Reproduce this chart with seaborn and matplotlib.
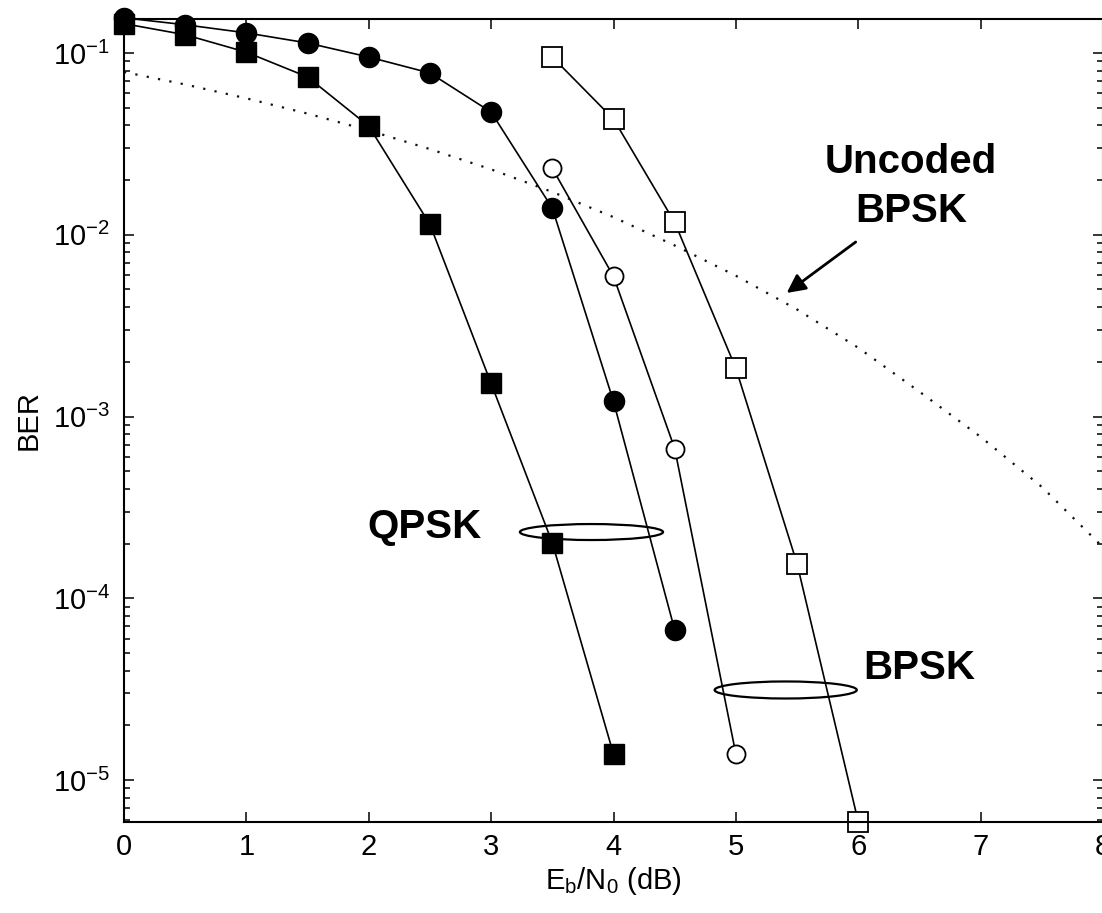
import numpy as np
import pandas as pd
import matplotlib
matplotlib.use("Agg")
import matplotlib.pyplot as plt
import seaborn as sns
from matplotlib.patches import Ellipse
from matplotlib.ticker import LogLocator, NullFormatter

sns.set_style("ticks")
plt.rcParams['font.family'] = ['Liberation Sans Narrow', 'Liberation Sans', 'DejaVu Sans']
plt.rcParams['mathtext.fontset'] = 'custom'
plt.rcParams['mathtext.rm'] = 'Liberation Sans'
plt.rcParams['mathtext.it'] = 'Liberation Sans'
plt.rcParams['axes.unicode_minus'] = False
plt.rcParams['text.color'] = 'black'
plt.rcParams['axes.labelcolor'] = 'black'

# ---- data (Eb/N0 in dB, BER) ----
qpsk_sq_x = [0, 0.5, 1, 1.5, 2, 2.5, 3, 3.5, 4]
qpsk_sq_ber = [0.145, 0.126, 0.101, 0.0738, 0.0396, 0.0114, 0.00152, 2.02e-4, 1.39e-5]

qpsk_ci_x = [0, 0.5, 1, 1.5, 2, 2.5, 3, 3.5, 4, 4.5]
qpsk_ci_ber = [0.156, 0.143, 0.129, 0.1135, 0.095, 0.0776, 0.0473, 0.0140, 0.00121, 6.7e-5]

bpsk_ci_x = [3.5, 4, 4.5, 5]
bpsk_ci_ber = [0.0232, 0.0059, 6.67e-4, 1.39e-5]

bpsk_sq_x = [3.5, 4, 4.5, 5, 5.5, 6]
bpsk_sq_ber = [0.095, 0.0433, 0.0117, 0.00184, 1.55e-4, 5.9e-6]

uncoded_x = [0, 0.5, 1, 1.5, 2, 2.5, 3, 3.5, 4, 4.5, 5, 5.5, 6, 6.5, 7, 7.5, 8]
uncoded_ber = [0.0786, 0.0671, 0.0563, 0.0464, 0.0375, 0.0296, 0.0229, 0.0172, 0.0125,
               0.00873, 0.00595, 0.00388, 0.00239, 0.00137, 7.73e-4, 4.1e-4, 1.91e-4]

x_ticks = [0, 1, 2, 3, 4, 5, 6, 7, 8]

# ---- figure ----
fig = plt.figure(figsize=(11.02, 9.13), dpi=100)
ax = fig.add_axes([124 / 1102, 91 / 913, 979 / 1102, 803 / 913])
ax.set_yscale('log')

line_kw = dict(color='black', lw=1.2, clip_on=False, ax=ax)

sns.lineplot(x=uncoded_x, y=uncoded_ber, color='#111111', lw=1.6,
             linestyle=(0, (1, 4.2)), ax=ax)

sns.lineplot(x=qpsk_sq_x, y=qpsk_sq_ber, marker='s', markersize=14,
             markerfacecolor='black', markeredgecolor='black', markeredgewidth=1, **line_kw)
sns.lineplot(x=qpsk_ci_x, y=qpsk_ci_ber, marker='o', markersize=14.5,
             markerfacecolor='black', markeredgecolor='black', markeredgewidth=1, **line_kw)
sns.lineplot(x=bpsk_ci_x, y=bpsk_ci_ber, marker='o', markersize=13,
             markerfacecolor='white', markeredgecolor='black', markeredgewidth=1.3, **line_kw)
sns.lineplot(x=bpsk_sq_x, y=bpsk_sq_ber, marker='s', markersize=14,
             markerfacecolor='white', markeredgecolor='black', markeredgewidth=1.3, **line_kw)

ax.set_xlim(0, 8)
ax.set_ylim(5.88e-6, 0.1538)
ax.set_xticks(x_ticks)
ax.yaxis.set_major_locator(LogLocator(base=10, numticks=20))
ax.yaxis.set_minor_locator(LogLocator(base=10, subs=np.arange(2, 10), numticks=20))
ax.yaxis.set_minor_formatter(NullFormatter())

ax.tick_params(which='both', direction='in', top=True, right=True, width=1.1,
               colors='black', labelsize=21)
ax.tick_params(which='major', length=7.5)
ax.tick_params(which='minor', length=4.5)
ax.tick_params(axis='y', pad=10)
ax.tick_params(axis='x', pad=8)
for s in ax.spines.values():
    s.set_linewidth(1.5)
    s.set_color('black')

ax.set_xlabel(r'E$_\mathregular{b}$/N$_\mathregular{0}$ (dB)', fontsize=21)
ax.set_ylabel('BER', fontsize=21)
ax.xaxis.set_label_coords(0.5, -0.054)
ax.xaxis.label.set_va('top')
ax.yaxis.set_label_coords(-0.083, 0.5)

# ---- annotations ----
bold = dict(fontsize=29, fontweight='bold', family=['Liberation Sans', 'DejaVu Sans'],
            color='black', ha='center', va='baseline', transform=ax.transAxes)
ax.text(0.8037, 0.8082, 'Uncoded', **bold)
ax.text(0.8037, 0.7472, 'BPSK', **bold)
ax.text(0.3067, 0.3537, 'QPSK', **bold)
ax.text(0.8119, 0.1781, 'BPSK', **bold)

ax.annotate('', xy=(0.6769, 0.6588), xytext=(0.7474, 0.7223),
            xycoords='axes fraction', textcoords='axes fraction',
            arrowprops=dict(arrowstyle='-|>', lw=2, color='black',
                            mutation_scale=28, shrinkA=0, shrinkB=0))

for cx, cy, w, h in [(0.4775, 0.3611, 0.1462, 0.0199), (0.6759, 0.1644, 0.1452, 0.0212)]:
    ax.add_patch(Ellipse((cx, cy), w, h, transform=ax.transAxes, fill=False,
                         lw=1.6, edgecolor='black', zorder=5))

fig.savefig('out.png', dpi=100)
